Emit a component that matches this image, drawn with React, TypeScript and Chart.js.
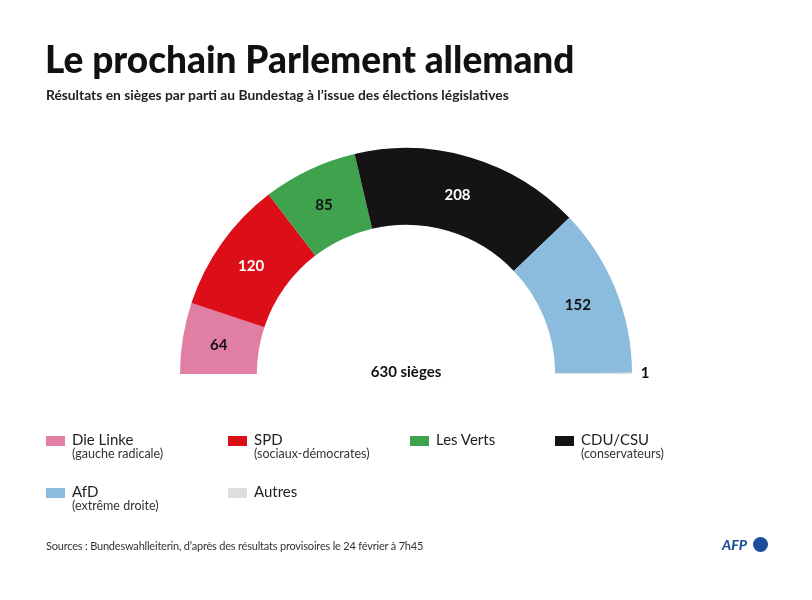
import React, { useEffect, useRef } from "react";
import { Chart, registerables } from "chart.js";

Chart.register(...registerables);

const parties = ["Die Linke", "SPD", "Les Verts", "CDU/CSU", "AfD", "Autres"];
const subLabels = ["(gauche radicale)", "(sociaux-démocrates)", "", "(conservateurs)", "(extrême droite)", ""];
const seats = [64, 120, 85, 208, 152, 1];
const colors = ["#E07FA3", "#DC0F19", "#3FA34D", "#141414", "#8BBBDD", "#DEDEDE"];
const labelColors = ["#111", "#fff", "#111", "#fff", "#111", "#111"];
const totalLabel = "630 sièges";

const FONT = "Lato, 'Noto Sans', sans-serif";

const labelPlugin = {
  id: "seatLabels",
  afterDatasetsDraw(chart: any) {
    const ctx = chart.ctx;
    const meta = chart.getDatasetMeta(0);
    ctx.save();
    ctx.textAlign = "center";
    ctx.textBaseline = "middle";
    ctx.font = `bold 15px ${FONT}`;
    meta.data.forEach((arc: any, i: number) => {
      const v = seats[i];
      ctx.fillStyle = labelColors[i];
      if (i === seats.length - 1) {
        ctx.fillText(String(v), arc.x + arc.outerRadius + 13, arc.y - 1);
      } else {
        const p = arc.tooltipPosition();
        ctx.fillText(String(v), p.x - 2, p.y + 1);
      }
    });
    const a0 = meta.data[0];
    ctx.fillStyle = "#111";
    ctx.fillText(totalLabel, a0.x, a0.y - 2);
    ctx.restore();
  },
};

function ChartCanvas() {
  const ref = useRef<HTMLCanvasElement>(null);
  useEffect(() => {
    if (!ref.current) return;
    const chart = new Chart(ref.current, {
      type: "doughnut",
      data: {
        labels: parties,
        datasets: [
          {
            data: seats,
            backgroundColor: colors,
            borderWidth: 0,
          },
        ],
      },
      options: {
        animation: false,
        responsive: false,
        rotation: -90,
        circumference: 180,
        cutout: "66%",
        layout: { padding: { left: 180, right: 180, top: 148, bottom: 226 } },
        plugins: { legend: { display: false }, tooltip: { enabled: false } },
      },
      plugins: [labelPlugin],
    });
    return () => chart.destroy();
  }, []);
  return (
    <canvas
      ref={ref}
      width={812}
      height={600}
      style={{ position: "absolute", left: 0, top: 0, width: 812, height: 600 }}
    />
  );
}

const legendPos = [
  { x: 46, y: 432 },
  { x: 228, y: 432 },
  { x: 410, y: 432 },
  { x: 555, y: 432 },
  { x: 46, y: 484 },
  { x: 228, y: 484 },
];

export default function App() {
  return (
    <div
      style={{
        position: "absolute",
        left: 0,
        top: 0,
        width: 812,
        height: 600,
        background: "#fff",
        fontFamily: FONT,
        color: "#111",
        overflow: "hidden",
      }}
    >
      <ChartCanvas />
      <div style={{ position: "absolute", left: 45, top: 36, fontSize: 37, fontWeight: 900, whiteSpace: "nowrap" }}>
        Le prochain Parlement allemand
      </div>
      <div style={{ position: "absolute", left: 46, top: 86, fontSize: 13.8, fontWeight: 700, color: "#222", whiteSpace: "nowrap" }}>
        Résultats en sièges par parti au Bundestag à l’issue des élections législatives
      </div>
      {parties.map((p, i) => (
        <div key={p} style={{ position: "absolute", left: legendPos[i].x, top: legendPos[i].y }}>
          <div style={{ position: "absolute", left: 0, top: 4, width: 19, height: 10, background: colors[i] }} />
          <div style={{ position: "absolute", left: 26, top: -2, fontSize: 15, whiteSpace: "nowrap", color: "#222" }}>{p}</div>
          {subLabels[i] && (
            <div style={{ position: "absolute", left: 26, top: 14, fontSize: 12.5, whiteSpace: "nowrap", color: "#333" }}>
              {subLabels[i]}
            </div>
          )}
        </div>
      ))}
      <div style={{ position: "absolute", left: 46, top: 539, fontSize: 11, color: "#333", whiteSpace: "nowrap", letterSpacing: -0.2 }}>
        Sources : Bundeswahlleiterin, d’après des résultats provisoires le 24 février à 7h45
      </div>
      <div style={{ position: "absolute", left: 722, top: 536, fontSize: 14, fontWeight: 900, fontStyle: "italic", color: "#1B4E9B", whiteSpace: "nowrap" }}>
        AFP
      </div>
      <div style={{ position: "absolute", left: 753, top: 537, width: 15, height: 15, borderRadius: "50%", background: "#1B4E9B" }} />
    </div>
  );
}
